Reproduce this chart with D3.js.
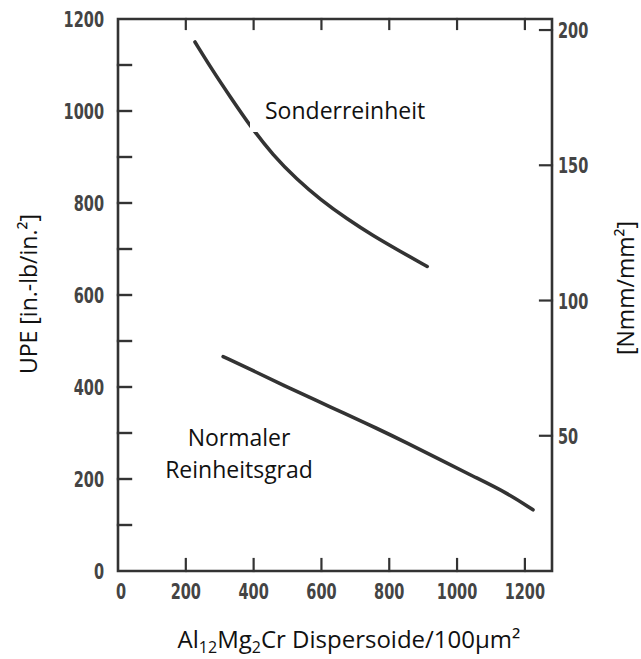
<!DOCTYPE html>
<html>
<head>
<meta charset="utf-8">
<script src="https://cdn.jsdelivr.net/npm/d3@7"></script>
<style>
  html, body { margin: 0; padding: 0; background: #fff; }
  svg { display: block; }
  .tick-label { font-family: "DejaVu Sans", sans-serif; font-weight: bold; font-size: 22px; fill: #444; }
  .ann { font-family: "Open Sans", sans-serif; font-size: 23px; fill: #111; }
</style>
</head>
<body>
<svg id="chart" width="641" height="659"></svg>
<script>
// ---- data ----
const xTicksLabeled = [0, 200, 400, 600, 800, 1000, 1200];
const xTicksMarks = [200, 400, 600, 800, 1000, 1200];
const yLeftTicks = [100, 200, 300, 400, 500, 600, 700, 800, 900, 1000, 1100];
const yLeftLabels = [0, 200, 400, 600, 800, 1000, 1200];
const yRightTicks = [50, 100, 150, 200];

// Sonderreinheit curve: x = Dispersoide/100µm², y = UPE [in.-lb/in.²]
const sonderX = [227, 280, 330, 389, 457, 528, 596, 676, 752, 832, 912];
const sonderY = [1150, 1087, 1032, 968, 904, 851, 808, 765, 729, 695, 662];
// Normaler Reinheitsgrad curve
const normalX = [310, 389, 487, 587, 664, 764, 853, 950, 1047, 1147, 1224];
const normalY = [466, 439, 404, 370, 344, 310, 278, 242, 206, 170, 133];

const xDomain = [0, 1280];
const yDomain = [0, 1200];
const yRightDomain = [0, 200];
const rightTopEquivalentUPE = 1176; // 200 Nmm/mm² sits at this UPE level on the drawn scale

const svg = d3.select("#chart");
const x = d3.scaleLinear().domain(xDomain).range([118, 552]);
const y = d3.scaleLinear().domain(yDomain).range([571, 19]);
const yR = d3.scaleLinear().domain(yRightDomain).range([y(0), y(rightTopEquivalentUPE)]);

const axisColor = "#333";
const cond = 0.66; // horizontal condensing of tick-label glyphs

// frame
const frame = svg.append("g").attr("stroke", axisColor).attr("fill", "none").attr("stroke-width", 2.6).attr("stroke-linecap", "square");
frame.append("path").attr("d", d3.line()([[x(xDomain[0]), y(0)], [x(xDomain[1]), y(0)], [x(xDomain[1]), y(1200)], [x(0), y(1200)], [x(0), y(0)]]));

frame.selectAll(".lt").data(yLeftTicks).join("line")
  .attr("x1", x(0)).attr("x2", x(0) + 13)
  .attr("y1", d => y(d)).attr("y2", d => y(d)).attr("stroke-width", 2.4);
frame.selectAll(".bt").data(xTicksMarks).join("line")
  .attr("x1", d => x(d)).attr("x2", d => x(d))
  .attr("y1", y(0)).attr("y2", y(0) - 12).attr("stroke-width", 2.2);
frame.selectAll(".tt").data(xTicksMarks).join("line")
  .attr("x1", d => x(d)).attr("x2", d => x(d))
  .attr("y1", y(1200)).attr("y2", y(1200) + 10).attr("stroke-width", 2.2);
frame.selectAll(".rt").data(yRightTicks).join("line")
  .attr("x1", x(xDomain[1]) - 12).attr("x2", x(xDomain[1]))
  .attr("y1", d => yR(d)).attr("y2", d => yR(d)).attr("stroke-width", 2.2);

// tick labels (condensed)
svg.selectAll(".yl").data(yLeftLabels).join("text")
  .attr("class", "tick-label")
  .attr("transform", d => `translate(104,${y(d) + 8}) scale(${cond},1)`)
  .attr("text-anchor", "end").text(d => d);
svg.selectAll(".xl").data(xTicksLabeled).join("text")
  .attr("class", "tick-label")
  .attr("transform", d => `translate(${x(d) + (d === 0 ? 3 : 0)},599) scale(${cond},1)`)
  .attr("text-anchor", "middle").text(d => d);
svg.selectAll(".rl").data(yRightTicks).join("text")
  .attr("class", "tick-label")
  .attr("transform", d => `translate(558,${yR(d) + 8}) scale(${cond},1)`)
  .attr("text-anchor", "start").text(d => d);

// curves
const line = d3.line().x(d => x(d[0])).y(d => y(d[1])).curve(d3.curveBasis);
const sonder = sonderX.map((v, i) => [v, sonderY[i]]);
const normal = normalX.map((v, i) => [v, normalY[i]]);
svg.append("path").attr("d", line(sonder)).attr("fill", "none").attr("stroke", "#333").attr("stroke-width", 3.6).attr("stroke-linecap", "round");
svg.append("path").attr("d", line(normal)).attr("fill", "none").attr("stroke", "#333").attr("stroke-width", 3.6).attr("stroke-linecap", "round");

// annotation: Sonderreinheit on white box
const annG = svg.append("g");
const boxR = annG.append("rect").attr("fill", "#fff");
const sT = annG.append("text").attr("class", "ann").attr("x", 265).attr("y", 119).text("Sonderreinheit");
const bb = sT.node().getBBox();
boxR.attr("x", 250).attr("y", 95).attr("width", bb.x + bb.width + 8 - 250).attr("height", 37);

const nT = svg.append("text").attr("class", "ann").attr("text-anchor", "middle");
nT.append("tspan").attr("x", 239).attr("y", 446).text("Normaler");
nT.append("tspan").attr("x", 239).attr("y", 478).text("Reinheitsgrad");

// axis titles
const xt = svg.append("text").attr("class", "ann").attr("x", 349).attr("y", 648).attr("text-anchor", "middle").style("font-size", "24px");
xt.append("tspan").text("Al");
xt.append("tspan").attr("font-size", "16px").attr("dy", 5).text("12");
xt.append("tspan").attr("dy", -5).text("Mg");
xt.append("tspan").attr("font-size", "16px").attr("dy", 5).text("2");
xt.append("tspan").attr("dy", -5).text("Cr Dispersoide/100µm²");

svg.append("text").attr("class", "ann")
  .attr("transform", "translate(37,294) rotate(-90)")
  .attr("text-anchor", "middle")
  .text("UPE [in.-lb/in.²]");

svg.append("text").attr("class", "ann")
  .attr("transform", "translate(634,288) rotate(-90)")
  .attr("text-anchor", "middle")
  .text("[Nmm/mm²]");
</script>
</body>
</html>
